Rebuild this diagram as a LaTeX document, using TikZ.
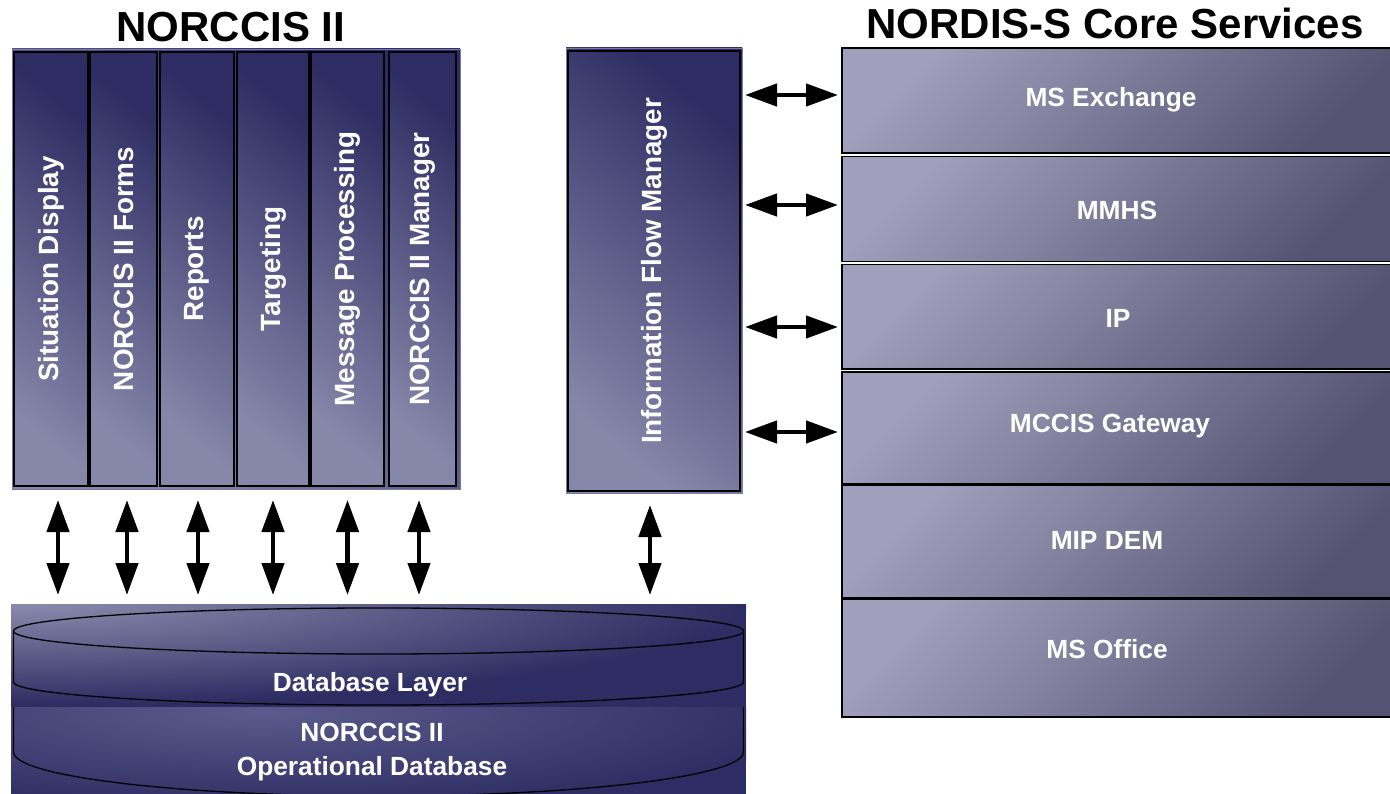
\documentclass[tikz,border=0pt]{standalone}
\usepackage{fontspec}
\setmainfont{Liberation Sans}
\usetikzlibrary{arrows.meta,calc}
\definecolor{navy}{RGB}{46,45,99}
\definecolor{colMid}{RGB}{58,57,108}
\definecolor{colLight}{RGB}{135,135,170}
\definecolor{rbLight}{RGB}{160,160,188}
\definecolor{rbMid}{RGB}{108,107,138}
\definecolor{rbDark}{RGB}{84,83,114}
\definecolor{dbLight}{RGB}{142,142,175}
\definecolor{dbLow}{RGB}{90,90,140}
\definecolor{frameEdge}{RGB}{120,120,170}
\begin{document}
\begin{tikzpicture}[x=1pt,y=-1pt,
  colshade/.style={top color=navy, middle color=colMid, bottom color=colLight, shading angle=-40},
  colbox/.style={colshade, draw=black, line width=1.6pt, inner sep=0pt, outer sep=0pt,
    text=white, font=\fontsize{27.8}{32}\selectfont\bfseries},
  rbox/.style={top color=rbLight, middle color=rbMid, bottom color=rbDark, shading angle=45,
    draw=black, line width=1.4pt, inner sep=0pt, outer sep=0pt, minimum width=558},
  rtext/.style={text=white, font=\fontsize{26.3}{32}\selectfont\bfseries, inner sep=0pt},
  dbtext/.style={text=white, font=\fontsize{26.3}{34}\selectfont\bfseries, align=center, inner sep=0pt},
  title/.style={font=\fontsize{42}{46}\selectfont\bfseries, inner sep=0pt},
  cyl/.style={draw=black, line width=1.3pt},
  tipend/.tip={Triangle[length=32pt,width=22pt]},
  biarrow/.style={line width=4.5pt, tipend-tipend}
]
\useasboundingbox (0,0) rectangle (1390,794);
\clip (0,0) rectangle (1390,794);

% titles
\node[title] (t1) at (231,27) {NORCCIS II};
\node[title] (t2) at (1115,23) {NORDIS-S Core Services};

% backing frames
\fill[colshade, draw=frameEdge, line width=0.8pt] (12,49) rectangle (460,489);
\fill[colshade, draw=frameEdge, line width=0.8pt] (566,48) rectangle (742,493);

% NORCCIS II columns
\node[colbox, minimum width=74, minimum height=434] (c1) at (51,269) {\rotatebox{90}{Situation Display}};
\node[colbox, minimum width=67, minimum height=434] (c2) at (123.5,269) {\rotatebox{90}{NORCCIS II Forms}};
\node[colbox, minimum width=74, minimum height=434] (c3) at (197,269) {\rotatebox{90}{Reports}};
\node[colbox, minimum width=72, minimum height=434] (c4) at (273,269) {\rotatebox{90}{Targeting}};
\node[colbox, minimum width=73, minimum height=434] (c5) at (347.5,269) {\rotatebox{90}{Message Processing}};
\node[colbox, minimum width=67, minimum height=434] (c6) at (422.5,269) {\rotatebox{90}{NORCCIS II Manager}};

% Information Flow Manager
\node[colbox, minimum width=172, minimum height=440] (ifm) at (654,271) {\rotatebox{90}{Information Flow Manager}};

% NORDIS-S core services
\node[rbox, minimum height=105] (exch) at (1121,100.5) {};
\node[rbox, minimum height=105] (mmhs) at (1121,209) {};
\node[rbox, minimum height=104.5] (ip) at (1121,316.75) {};
\node[rbox, minimum height=112] (mccis) at (1121,428) {};
\node[rbox, minimum height=113] (mipdem) at (1121,541.5) {};
\node[rbox, minimum height=118] (office) at (1121,658) {};
\node[rtext] (exchT) at (1111,100) {MS Exchange};
\node[rtext] (mmhsT) at (1117,210) {MMHS};
\node[rtext] (ipT) at (1118,318) {IP};
\node[rtext] (mccisT) at (1110,426) {MCCIS Gateway};
\node[rtext] (mipdemT) at (1107,540) {MIP DEM};
\node[rtext] (officeT) at (1107,649) {MS Office};

% Database
\node[minimum width=735, minimum height=190, inner sep=0pt, outer sep=0pt] (db) at (378.5,699) {};
\begin{scope}
  \clip (11,604) rectangle (746,707);
  \fill[navy] (11,604) rectangle (746,707);
  \shade[inner color=dbLight, outer color=navy] (11,600) ellipse [x radius=740, y radius=105];
\end{scope}
\begin{scope}
  \clip (11,707) rectangle (746,794);
  \fill[navy] (11,707) rectangle (746,794);
  \shade[inner color=dbLow, outer color=navy] (260,712) ellipse [x radius=560, y radius=100];
\end{scope}
\draw[cyl] (378.5,631) ellipse [x radius=365, y radius=23];
\draw[cyl] (13.5,631) -- (13.5,682) arc[start angle=180, end angle=0, x radius=365, y radius=23] -- (743.5,631);
\draw[cyl] (13.5,707) -- (13.5,752) arc[start angle=180, end angle=0, x radius=365, y radius=44] -- (743.5,707);
\node[dbtext] (dbl) at (370,685) {Database Layer};
\node[dbtext] (dbo) at (372,752) {NORCCIS II\\Operational Database};

% vertical arrows
\foreach \c/\dx in {c1/7, c2/3.5, c3/1, c4/0, c5/0, c6/-3.5, ifm/-4} {
  \draw[biarrow, shorten <=14pt, shorten >=9pt]
    ($(\c.south)+(\dx,0)$) -- ($(\c.south |- db.north)+(\dx,0)$);
}

% horizontal arrows
\coordinate (a1) at ($(exch.west)+(0,-5.5)$);
\coordinate (a2) at ($(mmhs.west)+(0,-4)$);
\coordinate (a3) at ($(ip.west)+(0,10.25)$);
\coordinate (a4) at ($(mccis.west)+(0,4)$);
\foreach \a in {a1,a2,a3,a4} {
  \draw[biarrow, shorten <=5pt, shorten >=4pt] (ifm.east |- \a) -- (\a);
}
\end{tikzpicture}
\end{document}
